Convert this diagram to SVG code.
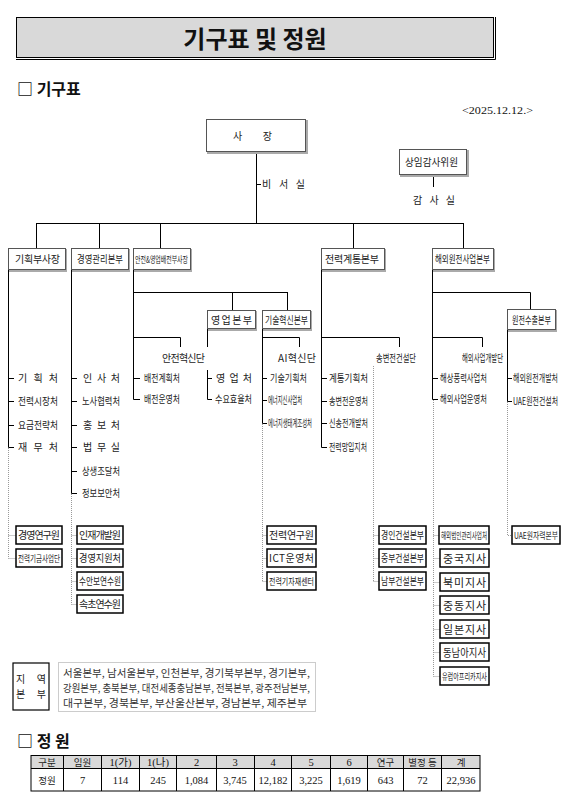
<svg xmlns="http://www.w3.org/2000/svg" width="571" height="797" viewBox="0 0 571 797">
<style>
.t{font-family:"Noto Sans CJK KR","Noto Sans",sans-serif;font-size:10px;fill:#222}
.b{font-weight:bold;fill:#111}
.s{font-family:"Liberation Serif","Noto Sans CJK KR",serif;font-size:10.5px;fill:#111}
.ln{stroke:#000;stroke-width:1;fill:none}
.dt{stroke:#999;stroke-width:1;stroke-dasharray:1 1;fill:none}
.hb{fill:#fff;stroke:#555;stroke-width:1}
.shd{stroke:#aaa;stroke-width:2;fill:none}
.bb{fill:#fff;stroke:#000;stroke-width:1.5}
</style>
<rect width="571" height="797" fill="#fff"/>

<g id="title">
<rect x="16.5" y="17.5" width="477" height="40" fill="#d9d9d9" stroke="#000"/>
<path d="M16 59.5H495.5V17" class="ln"/>
<text x="255" y="48" text-anchor="middle" class="t b" style="font-size:24px">기구표 및 정원</text>
</g>
<g id="h1"><text x="17" y="95" class="t b" style="font-size:16px">□ 기구표</text></g>
<g id="date"><text x="462" y="114" class="s" style="font-size:11px" textLength="71" lengthAdjust="spacingAndGlyphs">&lt;2025.12.12.&gt;</text></g>

<g id="connectors">
<path class="ln" d="M256.5 152V223M256.5 184.5H261M433.5 175V187M36 223.5H463.5M36.5 223V248M99.5 223V248M160.5 223V248M353.5 223V248M463.5 223V248"/>
<path class="ln" d="M8.5 270V447.5M8.5 378.5H14M8.5 401.5H14M8.5 425.5H14M8.5 447.5H14"/>
<path class="dt" d="M8.5 448V558.5M8.5 535.5H16M8.5 558.5H16"/>
<path class="ln" d="M71.5 270V493.5M71.5 378.5H77M71.5 401.5H77M71.5 425.5H77M71.5 447.5H77M71.5 471.5H77M71.5 493.5H77"/>
<path class="dt" d="M71.5 494V604.5M71.5 535.5H77M71.5 558.5H77M71.5 581.5H77M71.5 604.5H77"/>
<path class="ln" d="M133.5 270V399.5M133.5 378.5H140M133.5 399.5H140M133 292.5H287.5M232.5 292V310M287.5 292V310M133 337.5H180.5V347"/>
<path class="ln" d="M207.5 329V347M207.5 370V399.5M207.5 378.5H212M207.5 399.5H212"/>
<path class="ln" d="M262.5 329V423.5M262.5 378.5H267M262.5 400.5H267M262.5 423.5H267M262 337.5H299.5V347"/>
<path class="dt" d="M262.5 424V581.5M262.5 535.5H267M262.5 558.5H267M262.5 581.5H267"/>
<path class="ln" d="M321.5 270V447.5M321.5 378.5H327M321.5 401.5H327M321.5 423.5H327M321.5 447.5H327M321 337.5H399.5V347"/>
<path class="dt" d="M373.5 366V581.5M373.5 535.5H379M373.5 558.5H379M373.5 581.5H379"/>
<path class="ln" d="M432.5 270V399.5M432.5 378.5H438M432.5 399.5H438M432 292.5H530.5V309M432 337.5H482.5V347"/>
<path class="dt" d="M433.5 400V676.5M433.5 535.5H439M433.5 558.5H440M433.5 582.5H440M433.5 605.5H440M433.5 629.5H440M433.5 652.5H440M433.5 676.5H440"/>
<path class="ln" d="M507.5 330V401.5M507.5 378.5H512M507.5 401.5H512"/>
<path class="dt" d="M507.5 402V535.5H512"/>
</g>

<g id="ceo">
<path class="shd" d="M307 120V153H207"/>
<rect class="hb" x="206.5" y="119.5" width="99" height="32"/>
<text x="233" y="140" class="t" textLength="39" lengthAdjust="spacing">사장</text>
</g>
<g id="secretary"><text x="262" y="188" class="t" textLength="43" lengthAdjust="spacing">비서실</text></g>
<g id="auditor">
<path class="shd" d="M468 150V176H400"/>
<rect class="hb" x="399.5" y="149.5" width="67" height="25"/>
<text x="405" y="166" class="t" textLength="53" lengthAdjust="spacingAndGlyphs">상임감사위원</text>
</g>
<g id="audit-office"><text x="413" y="204" class="t" textLength="42" lengthAdjust="spacing">감사실</text></g>

<g id="hq-planning">
<path class="shd" d="M66 249V271H9"/>
<rect class="hb" x="8.5" y="248.5" width="57" height="21"/>
<text x="15" y="263" class="t" textLength="45" lengthAdjust="spacing">기획부사장</text>
</g>
<g id="hq-management">
<path class="shd" d="M129 249V271H72"/>
<rect class="hb" x="71.5" y="248.5" width="57" height="21"/>
<text x="77" y="263" class="t" textLength="46" lengthAdjust="spacingAndGlyphs">경영관리본부</text>
</g>
<g id="hq-safety">
<path class="shd" d="M191 249V271H134"/>
<rect class="hb" x="133.5" y="248.5" width="57" height="21"/>
<text x="135" y="263" class="t" style="font-size:9px" textLength="53" lengthAdjust="spacingAndGlyphs">안전&amp;영업배전부사장</text>
</g>
<g id="hq-grid">
<path class="shd" d="M385 249V271H322"/>
<rect class="hb" x="321.5" y="248.5" width="63" height="21"/>
<text x="325" y="263" class="t" textLength="54" lengthAdjust="spacing">전력계통본부</text>
</g>
<g id="hq-overseas">
<path class="shd" d="M494 249V271H433"/>
<rect class="hb" x="432.5" y="248.5" width="61" height="21"/>
<text x="435" y="263" class="t" textLength="55" lengthAdjust="spacingAndGlyphs">해외원전사업본부</text>
</g>
<g id="hq-sales">
<path class="shd" d="M256 311V330H208"/>
<rect class="hb" x="207.5" y="310.5" width="48" height="18"/>
<text x="211" y="324" class="t" textLength="41" lengthAdjust="spacing">영업본부</text>
</g>
<g id="hq-tech">
<path class="shd" d="M311 311V330H263"/>
<rect class="hb" x="262.5" y="310.5" width="48" height="18"/>
<text x="265" y="324" class="t" textLength="43" lengthAdjust="spacingAndGlyphs">기술혁신본부</text>
</g>
<g id="hq-export">
<path class="shd" d="M556 310V331H508"/>
<rect class="hb" x="507.5" y="309.5" width="48" height="20"/>
<text x="512" y="324" class="t" textLength="39" lengthAdjust="spacingAndGlyphs">원전수출본부</text>
</g>

<g id="col-planning">
<text x="18" y="382" class="t" textLength="40" lengthAdjust="spacing">기획처</text>
<text x="18" y="405" class="t" textLength="40" lengthAdjust="spacingAndGlyphs">전력시장처</text>
<text x="18" y="429" class="t" textLength="40" lengthAdjust="spacingAndGlyphs">요금전략처</text>
<text x="18" y="451" class="t" textLength="40" lengthAdjust="spacing">재무처</text>
</g>
<g id="col-management">
<text x="83" y="382" class="t" textLength="37" lengthAdjust="spacing">인사처</text>
<text x="82" y="405" class="t" textLength="38" lengthAdjust="spacingAndGlyphs">노사협력처</text>
<text x="83" y="429" class="t" textLength="37" lengthAdjust="spacing">홍보처</text>
<text x="83" y="451" class="t" textLength="37" lengthAdjust="spacing">법무실</text>
<text x="82" y="475" class="t" textLength="38" lengthAdjust="spacingAndGlyphs">상생조달처</text>
<text x="82" y="497" class="t" textLength="38" lengthAdjust="spacingAndGlyphs">정보보안처</text>
</g>
<g id="col-safety">
<text x="162" y="362" class="t" textLength="43" lengthAdjust="spacing">안전혁신단</text>
<text x="144" y="382" class="t" textLength="36" lengthAdjust="spacingAndGlyphs">배전계획처</text>
<text x="144" y="403" class="t" textLength="36" lengthAdjust="spacingAndGlyphs">배전운영처</text>
</g>
<g id="col-sales">
<text x="216" y="382" class="t" textLength="36" lengthAdjust="spacing">영업처</text>
<text x="215" y="403" class="t" textLength="37" lengthAdjust="spacingAndGlyphs">수요효율처</text>
</g>
<g id="col-tech">
<text x="278" y="362" class="t" textLength="38" lengthAdjust="spacing">AI혁신단</text>
<text x="270" y="382" class="t" textLength="37" lengthAdjust="spacingAndGlyphs">기술기획처</text>
<text x="268" y="404" class="t" textLength="34" lengthAdjust="spacingAndGlyphs">에너지신사업처</text>
<text x="268" y="427" class="t" textLength="44" lengthAdjust="spacingAndGlyphs">에너지생태계조성처</text>
</g>
<g id="col-grid">
<text x="376" y="362" class="t" textLength="40" lengthAdjust="spacingAndGlyphs">송변전건설단</text>
<text x="329" y="382" class="t" textLength="39" lengthAdjust="spacingAndGlyphs">계통기획처</text>
<text x="329" y="405" class="t" textLength="39" lengthAdjust="spacingAndGlyphs">송변전운영처</text>
<text x="329" y="427" class="t" textLength="39" lengthAdjust="spacingAndGlyphs">신송전개발처</text>
<text x="329" y="451" class="t" textLength="38" lengthAdjust="spacingAndGlyphs">전력망입지처</text>
</g>
<g id="col-overseas">
<text x="462" y="362" class="t" textLength="41" lengthAdjust="spacingAndGlyphs">해외사업개발단</text>
<text x="440" y="382" class="t" textLength="47" lengthAdjust="spacingAndGlyphs">해상풍력사업처</text>
<text x="440" y="403" class="t" textLength="47" lengthAdjust="spacingAndGlyphs">해외사업운영처</text>
</g>
<g id="col-export">
<text x="513" y="382" class="t" textLength="45" lengthAdjust="spacingAndGlyphs">해외원전개발처</text>
<text x="513" y="405" class="t" textLength="45" lengthAdjust="spacingAndGlyphs">UAE원전건설처</text>
</g>

<g id="b-research-inst"><rect class="bb" x="16" y="526" width="46" height="18"/><text x="18" y="539" class="t" textLength="42" lengthAdjust="spacing">경영연구원</text></g>
<g id="b-fund"><rect class="bb" x="16" y="549" width="46" height="18"/><text x="18" y="562" class="t" style="font-size:9px" textLength="42" lengthAdjust="spacingAndGlyphs">전력기금사업단</text></g>
<g id="b-hrd"><rect class="bb" x="77" y="526" width="46" height="18"/><text x="79" y="539" class="t" textLength="42" lengthAdjust="spacing">인재개발원</text></g>
<g id="b-support"><rect class="bb" x="77" y="549" width="46" height="18"/><text x="79" y="562" class="t" textLength="42" lengthAdjust="spacingAndGlyphs">경영지원처</text></g>
<g id="b-suanbo"><rect class="bb" x="77" y="572" width="46" height="18"/><text x="79" y="585" class="t" textLength="42" lengthAdjust="spacingAndGlyphs">수안보연수원</text></g>
<g id="b-sokcho"><rect class="bb" x="77" y="595" width="46" height="18"/><text x="79" y="608" class="t" textLength="42" lengthAdjust="spacing">속초연수원</text></g>
<g id="b-kepri"><rect class="bb" x="267" y="526" width="49" height="18"/><text x="269" y="539" class="t" textLength="45" lengthAdjust="spacing">전력연구원</text></g>
<g id="b-ict"><rect class="bb" x="267" y="549" width="49" height="18"/><text x="269" y="562" class="t" textLength="45" lengthAdjust="spacing">ICT운영처</text></g>
<g id="b-equip"><rect class="bb" x="267" y="572" width="49" height="18"/><text x="269" y="585" class="t" style="font-size:9px" textLength="45" lengthAdjust="spacingAndGlyphs">전력기자재센터</text></g>
<g id="b-gyeongin"><rect class="bb" x="379" y="526" width="47" height="18"/><text x="381" y="539" class="t" textLength="43" lengthAdjust="spacingAndGlyphs">경인건설본부</text></g>
<g id="b-jungbu"><rect class="bb" x="379" y="549" width="47" height="18"/><text x="381" y="562" class="t" textLength="43" lengthAdjust="spacingAndGlyphs">중부건설본부</text></g>
<g id="b-nambu"><rect class="bb" x="379" y="572" width="47" height="18"/><text x="381" y="585" class="t" textLength="43" lengthAdjust="spacingAndGlyphs">남부건설본부</text></g>
<g id="b-ovs-corp"><rect class="bb" x="439" y="526" width="50" height="18"/><text x="441" y="539" class="t" style="font-size:9px" textLength="46" lengthAdjust="spacingAndGlyphs">해외법인관리사업처</text></g>
<g id="b-china"><rect class="bb" x="440" y="549" width="49" height="18"/><text x="443" y="562.5" class="t" style="font-size:11px" textLength="43" lengthAdjust="spacing">중국지사</text></g>
<g id="b-na"><rect class="bb" x="440" y="573" width="49" height="18"/><text x="443" y="586.5" class="t" style="font-size:11px" textLength="43" lengthAdjust="spacing">북미지사</text></g>
<g id="b-me"><rect class="bb" x="440" y="596" width="49" height="18"/><text x="443" y="609.5" class="t" style="font-size:11px" textLength="43" lengthAdjust="spacing">중동지사</text></g>
<g id="b-japan"><rect class="bb" x="440" y="620" width="49" height="18"/><text x="443" y="633.5" class="t" style="font-size:11px" textLength="43" lengthAdjust="spacing">일본지사</text></g>
<g id="b-sea"><rect class="bb" x="440" y="643" width="49" height="18"/><text x="443" y="656.5" class="t" style="font-size:11px" textLength="43" lengthAdjust="spacingAndGlyphs">동남아지사</text></g>
<g id="b-eu"><rect class="bb" x="440" y="667" width="49" height="18"/><text x="442" y="680" class="t" style="font-size:9px" textLength="45" lengthAdjust="spacingAndGlyphs">유럽아프리카지사</text></g>
<g id="b-uae"><rect class="bb" x="512" y="526" width="48" height="18"/><text x="514" y="539" class="t" style="font-size:9px" textLength="44" lengthAdjust="spacingAndGlyphs">UAE원자력본부</text></g>

<g id="regions">
<rect x="13" y="663" width="36" height="47" fill="#fff" stroke="#000" stroke-width="1.2"/>
<text x="16" y="683" class="t" textLength="30" lengthAdjust="spacing">지역</text>
<text x="16" y="698" class="t" textLength="30" lengthAdjust="spacing">본부</text>
<rect x="58.5" y="662.5" width="257" height="49" fill="#fff" stroke="#999" stroke-dasharray="1 1"/>
<text x="63" y="677" class="t" style="font-size:10.5px;fill:#333" textLength="247" lengthAdjust="spacingAndGlyphs">서울본부, 남서울본부, 인천본부, 경기북부본부, 경기본부,</text>
<text x="63" y="691.5" class="t" style="font-size:10.5px;fill:#333" textLength="247" lengthAdjust="spacingAndGlyphs">강원본부, 충북본부, 대전세종충남본부, 전북본부, 광주전남본부,</text>
<text x="63" y="706.5" class="t" style="font-size:10.5px;fill:#333" textLength="244" lengthAdjust="spacingAndGlyphs">대구본부, 경북본부, 부산울산본부, 경남본부, 제주본부</text>
</g>

<g id="h2"><text x="17" y="747" class="t b" style="font-size:16px">□ 정 원</text></g>

<g id="staff-table">
<rect x="31" y="755.5" width="449" height="13" fill="#d9d9d9"/>
<rect x="31" y="755.5" width="449" height="35.5" fill="none" stroke="#000"/>
<path class="ln" d="M31 768.5H480M63.5 755V791M101.5 755V791M139.5 755V791M176.5 755V791M216.5 755V791M254.5 755V791M291.5 755V791M330.5 755V791M367.5 755V791M403.5 755V791M441.5 755V791"/>
<g class="s" text-anchor="middle">
<text x="47" y="766" class="t" style="font-size:9.5px">구분</text>
<text x="82.5" y="766" class="t" style="font-size:9.5px">임원</text>
<text x="120.5" y="766">1(가)</text>
<text x="158" y="766">1(나)</text>
<text x="196.5" y="766">2</text>
<text x="235" y="766">3</text>
<text x="273" y="766">4</text>
<text x="311" y="766">5</text>
<text x="349" y="766">6</text>
<text x="385.5" y="766" class="t" style="font-size:9.5px">연구</text>
<text x="422.5" y="766" class="t" style="font-size:9.5px">별정 등</text>
<text x="461" y="766" class="t" style="font-size:9.5px">계</text>
<text x="47" y="783.5" class="t" style="font-size:9.5px">정원</text>
<text x="82.5" y="783.5">7</text>
<text x="120.5" y="783.5">114</text>
<text x="158" y="783.5">245</text>
<text x="196.5" y="783.5">1,084</text>
<text x="235" y="783.5">3,745</text>
<text x="273" y="783.5">12,182</text>
<text x="311" y="783.5">3,225</text>
<text x="349" y="783.5">1,619</text>
<text x="385.5" y="783.5">643</text>
<text x="422.5" y="783.5">72</text>
<text x="461" y="783.5">22,936</text>
</g>
</g>
</svg>
